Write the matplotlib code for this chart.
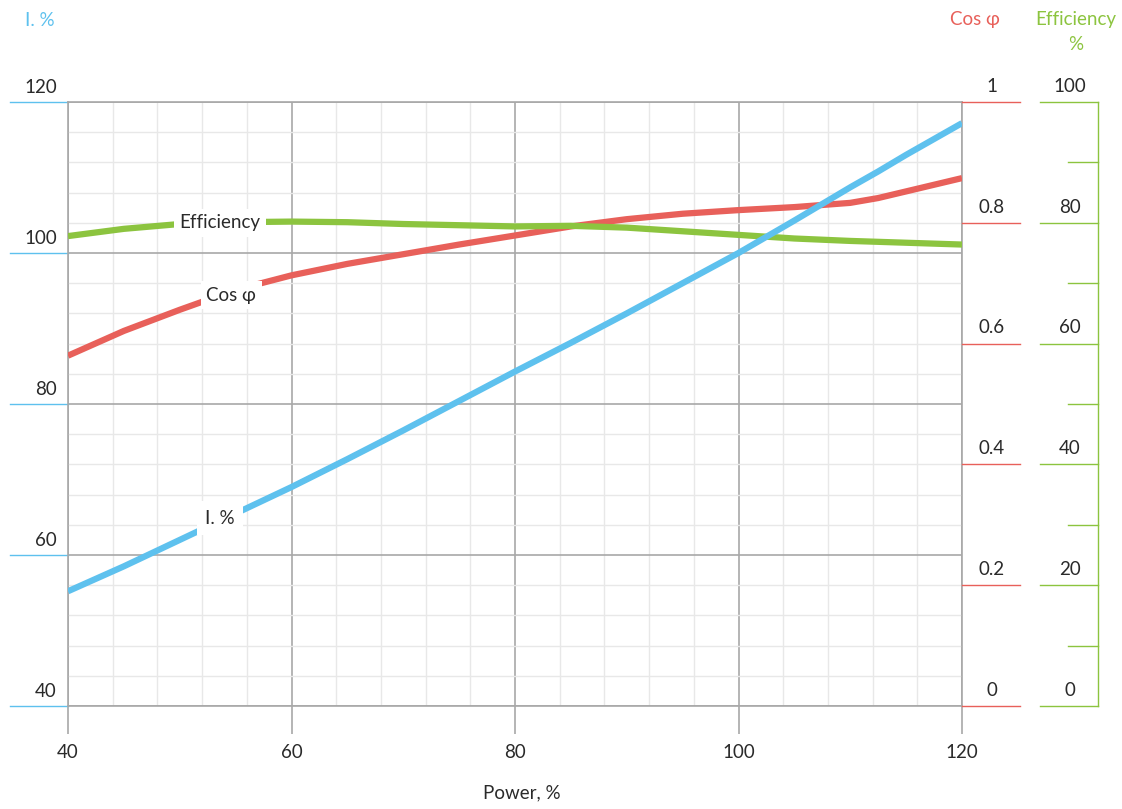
import matplotlib
matplotlib.use("Agg")
import matplotlib.pyplot as plt
import numpy as np

# ---- data ----
power = [40, 45, 50, 55, 60, 65, 70, 75, 80, 85, 90, 95, 100, 105, 110, 112.5, 115, 117.5, 120]
current = [55.2, 58.5, 62.0, 65.5, 69.0, 72.7, 76.5, 80.4, 84.3, 88.1, 92.0, 96.0, 100.0, 104.3, 108.7, 110.8, 113.0, 115.1, 117.2]
cosphi = [0.580, 0.621, 0.656, 0.689, 0.713, 0.732, 0.748, 0.764, 0.779, 0.794, 0.806, 0.815, 0.821, 0.826, 0.833, 0.841, 0.852, 0.863, 0.874]
efficiency = [77.8, 79.0, 79.8, 80.1, 80.2, 80.1, 79.8, 79.6, 79.4, 79.5, 79.2, 78.6, 78.0, 77.4, 77.0, 76.85, 76.7, 76.55, 76.4]

x_ticks = [40, 60, 80, 100, 120]
i_ticks = [40, 60, 80, 100, 120]
cos_ticks = [0, 0.2, 0.4, 0.6, 0.8, 1]
cos_labels = ["0", "0.2", "0.4", "0.6", "0.8", "1"]
eff_major = [0, 20, 40, 60, 80, 100]
eff_minor = [10, 30, 50, 70, 90]

BLUE = "#5ec1ee"
RED = "#e8605a"
GREEN = "#8cc43f"
TXT = "#2a2a2a"
MAJ = "#a8a8a8"
MIN = "#e8e8e8"

plt.rcParams['font.family'] = ['Lato', 'DejaVu Sans']
FS = 13.5

W, H = 1122, 809
fig = plt.figure(figsize=(W / 100, H / 100), dpi=100)
L, R, T, B = 68, 962, 102, 706
ax = fig.add_axes([L / W, 1 - B / H, (R - L) / W, (B - T) / H])
ax.set_xlim(40, 120)
ax.set_ylim(40, 120)

# grid
ax.set_xticks(x_ticks)
ax.set_yticks(i_ticks)
ax.set_xticks(np.arange(40, 121, 4), minor=True)
ax.set_yticks(np.arange(40, 121, 4), minor=True)
ax.grid(which='minor', color=MIN, lw=1.0)
ax.grid(which='major', color=MAJ, lw=1.2)
ax.set_axisbelow(True)
for s in ax.spines.values():
    s.set_color(MAJ)
    s.set_linewidth(1.2)
ax.tick_params(axis='x', which='major', length=20, width=1.2, color=MAJ,
               pad=7, labelsize=FS, labelcolor=TXT)
ax.tick_params(axis='x', which='minor', length=0)
ax.tick_params(axis='y', which='both', length=0, labelleft=False)

# left I ticks
ytr = ax.get_yaxis_transform()
x0 = (10 - L) / (R - L)
for v in i_ticks:
    ax.plot([x0, 0], [v, v], transform=ytr, color=BLUE, lw=1.0, clip_on=False)
    ax.text((57 - L) / (R - L), v + 0.8, f"{v}", transform=ytr, ha='right', va='bottom',
            fontsize=FS, color=TXT)

# cos axis
ax_cos = ax.twinx()
ax_cos.set_ylim(0, 1)
ax_cos.axis('off')
ctr = ax_cos.get_yaxis_transform()
for v, lab in zip(cos_ticks, cos_labels):
    ax_cos.plot([1.0, (1020 - L) / (R - L)], [v, v], transform=ctr, color=RED, lw=1.0, clip_on=False)
    ax_cos.text((992 - L) / (R - L), v + 0.012, lab, transform=ctr, ha='center', va='bottom',
                fontsize=FS, color=TXT)
ax_cos.plot(power, cosphi, color=RED, lw=4.5, solid_capstyle='butt', solid_joinstyle='round')

# efficiency axis
ax_eff = ax.twinx()
ax_eff.set_ylim(0, 100)
ax_eff.axis('off')
etr = ax_eff.get_yaxis_transform()
ex_line = (1098 - L) / (R - L)
ax_eff.plot([ex_line, ex_line], [0, 100], transform=etr, color=GREEN, lw=1.0, clip_on=False)
for v in eff_major:
    ax_eff.plot([(1040 - L) / (R - L), ex_line], [v, v], transform=etr, color=GREEN, lw=1.0, clip_on=False)
    ax_eff.text((1070 - L) / (R - L), v + 1.2, f"{v}", transform=etr, ha='center', va='bottom',
                fontsize=FS, color=TXT)
for v in eff_minor:
    ax_eff.plot([(1068 - L) / (R - L), ex_line], [v, v], transform=etr, color=GREEN, lw=1.0, clip_on=False)
ax_eff.plot(power, efficiency, color=GREEN, lw=4.5, solid_capstyle='butt', solid_joinstyle='round')

# current line on top
ax_i = ax.twinx()
ax_i.set_ylim(40, 120)
ax_i.axis('off')
ax_i.plot(power, current, color=BLUE, lw=4.5, solid_capstyle='butt', solid_joinstyle='round')

# in-line labels
box = dict(facecolor='white', edgecolor='none', pad=4)
ax_i.text(53.6, 80.0, "Efficiency", transform=ax_eff.transData, ha='center', va='center',
          fontsize=FS, color=TXT, bbox=box, zorder=10)
ax_i.text(54.6, 0.68, "Cos φ", transform=ax_cos.transData, ha='center', va='center',
          fontsize=FS, color=TXT, bbox=box, zorder=10)
ax_i.text(53.6, 64.9, "I. %", transform=ax.transData, ha='center', va='center',
          fontsize=FS, color=TXT, bbox=dict(facecolor='white', edgecolor='none', pad=6), zorder=10)

# titles
fig.text(40 / W, 1 - 20 / H, "I. %", ha='center', va='center', fontsize=FS, color=BLUE)
fig.text(975 / W, 1 - 20 / H, "Cos φ", ha='center', va='center', fontsize=FS, color=RED)
fig.text(1076 / W, 1 - 20 / H, "Efficiency", ha='center', va='center', fontsize=FS, color=GREEN)
fig.text(1076 / W, 1 - 44 / H, "%", ha='center', va='center', fontsize=FS, color=GREEN)
fig.text(522 / W, 1 - 793 / H, "Power, %", ha='center', va='center', fontsize=FS, color=TXT)

fig.savefig("out.png", dpi=100)
